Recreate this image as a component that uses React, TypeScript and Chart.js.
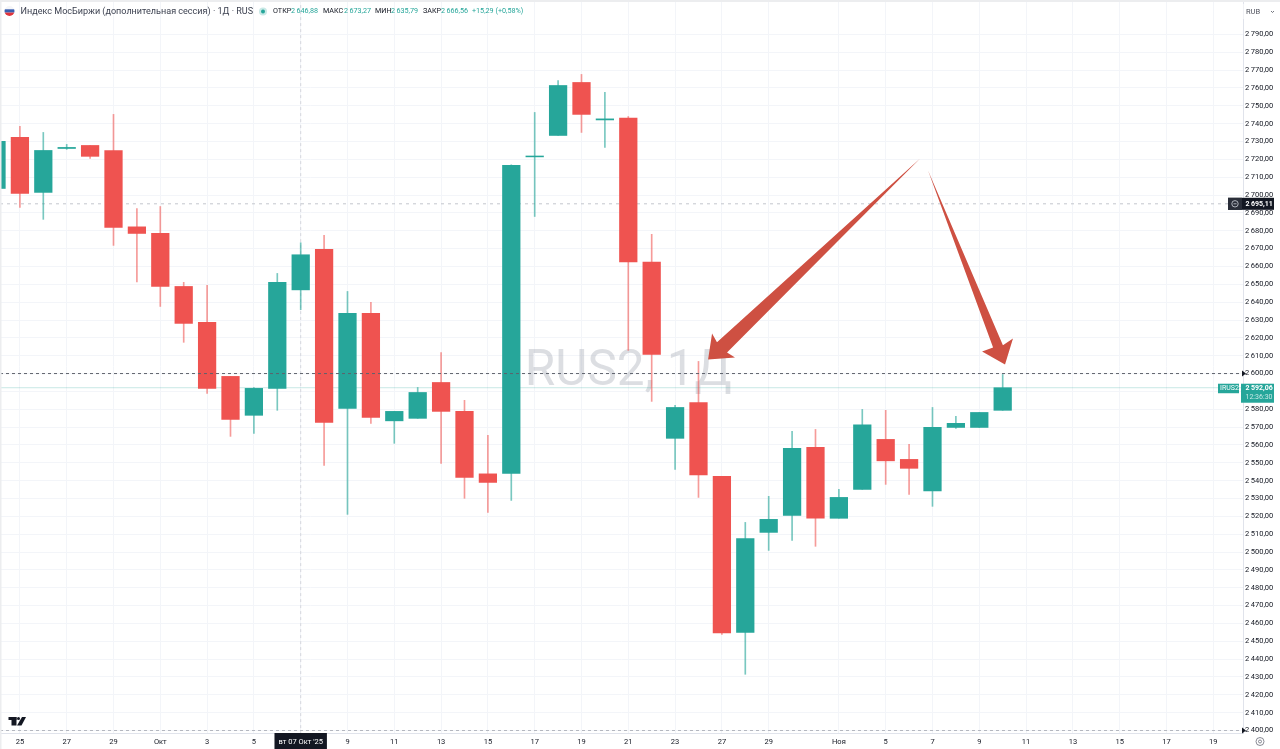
import React, { useEffect, useRef } from 'react';
import { Chart, registerables } from 'chart.js';

Chart.register(...registerables);

const openPrices = [2703.7,2732.3,2701.5,2726.1,2727.8,2725,2682.2,2678.5,2648.8,2628.7,2598.4,2576.6,2591.7,2646.88,2669.6,2580.5,2633.7,2573.5,2574.9,2595,2578.8,2543.8,2544.1,2721.4,2733.4,2763.1,2742.1,2743.2,2662.5,2563.7,2583.8,2542.4,2455,2511,2520.5,2558.6,2518.9,2535.1,2563.1,2551.9,2534.3,2569.8,2569.8,2579.4];
const closePrices = [2730.1,2700.9,2725,2726.7,2721.7,2681.9,2678.5,2648.8,2628.1,2591.7,2574.3,2591.7,2651.1,2666.56,2572.6,2633.7,2575.4,2578.8,2589.4,2578.8,2541.8,2539,2716.6,2721.9,2761.4,2745.2,2742.7,2662.5,2610.7,2581,2543.2,2454.7,2507.6,2518.3,2558.1,2518.9,2530.6,2571.2,2551.1,2546.9,2569.8,2572.1,2578.2,2592.06];
const highPrices = [2731,2738.5,2735.1,2728.4,2727.8,2745.2,2692.5,2693.6,2651.1,2649.4,2598.4,2592.2,2656.1,2673.27,2677.4,2646,2639.9,2578.8,2592.2,2611.8,2585,2565.4,2717,2746.3,2764.2,2767.6,2757.5,2744,2678,2582.2,2606.8,2542.4,2516.6,2531.2,2567.6,2568.7,2535.1,2579.9,2579.4,2560.3,2581,2576,2578.2,2599.5];
const lowPrices = [2703,2693.1,2686.4,2725.6,2720.5,2671.8,2651.3,2637.6,2617.5,2588.9,2564.8,2566.5,2579.4,2635.79,2548.5,2521.1,2572.1,2560.9,2574.9,2549.7,2530.1,2522.2,2528.9,2688,2733.4,2735.1,2726.7,2613,2584.4,2546.3,2530.6,2453.9,2431.5,2500.9,2506.5,2503.2,2518.9,2535.1,2537.9,2532.3,2525.6,2569.3,2569.8,2579.4];

const xTickIndices = [1,3,5,7,9,11,13,15,17,19,21,23,25,27,29,31,33,36,38,40,42,44,46,48,50,52];
const xTickLabels = ['25','27','29','Окт','3','5',"вт 07 Окт '25",'9','11','13','15','17','19','21','23','27','29','Ноя','5','7','9','11','13','15','17','19'];

const crosshairIndex = 13;
const crosshairPrice = 2695.11;
const lastPrice = 2592.06;
const alertLevels = [2600, 2400];
const arrowLeft = [[39.47,2720.5],[30.79,2617.5],[30.58,2622.5],[30.41,2607.9],[31.56,2609],[31.22,2611.8]];
const arrowRight = [[39.81,2713.8],[43.01,2615.8],[43.44,2619.7],[43.1,2605.1],[42.12,2612.4],[42.59,2614.6]];

const titleText = 'Индекс МосБиржи (дополнительная сессия) · 1Д · RUS';
const ohlcLabels = ['ОТКР','МАКС','МИН','ЗАКР'];
const ohlcValues = ['2\u2009646,88','2\u2009673,27','2\u2009635,79','2\u2009666,56'];
const changeText = '+15,29 (+0,58%)';
const watermarkText = 'RUS2, 1Д';

const UP = '#26A69A';
const DOWN = '#EF5350';
const FONT = 'Roboto, sans-serif';
const INK = '#131722';
const X_MIN = 0.1496;
const X_MAX = 53.27;

const fmtPrice = (v: number) => {
  const s = v.toFixed(2).replace('.', ',');
  return s.slice(0, 1) + '\u2009' + s.slice(1);
};

const hline = (y: number, color: string, dash: number[], order: number) => ({
  type: 'line' as const,
  data: [{ x: X_MIN, y }, { x: X_MAX, y }],
  borderColor: color,
  borderWidth: 1,
  borderDash: dash,
  pointRadius: 0,
  order,
});

const decor = {
  id: 'decor',
  beforeDatasetsDraw(chart: any) {
    const { ctx, scales } = chart;
    ctx.save();
    ctx.fillStyle = 'rgba(178,181,190,0.45)';
    ctx.font = `49.5px ${FONT}`;
    ctx.textAlign = 'center';
    ctx.textBaseline = 'alphabetic';
    ctx.fillText(watermarkText, scales.x.getPixelForValue(27), scales.y.getPixelForValue(2593.5));
    ctx.restore();
  },
  afterDraw(chart: any) {
    const { ctx, scales } = chart;
    const x = scales.x;
    const y = scales.y;
    ctx.save();

    // arrows
    ctx.fillStyle = '#CE5042';
    [arrowLeft, arrowRight].forEach((pts) => {
      ctx.beginPath();
      pts.forEach(([i, p], k) => {
        const px = x.getPixelForValue(i);
        const py = y.getPixelForValue(p);
        if (k === 0) ctx.moveTo(px, py);
        else ctx.lineTo(px, py);
      });
      ctx.closePath();
      ctx.fill();
    });

    // window edges
    ctx.fillStyle = '#ECEDEF';
    ctx.fillRect(0, 0, 1280, 2);
    ctx.fillRect(0, 0, 1.5, 749);

    // header
    ctx.textBaseline = 'middle';
    ctx.textAlign = 'left';
    ctx.save();
    ctx.beginPath();
    ctx.arc(9.5, 11, 5, 0, Math.PI * 2);
    ctx.clip();
    ctx.fillStyle = '#F4F5F8';
    ctx.fillRect(4, 6, 11, 3.3);
    ctx.fillStyle = '#3A5FB0';
    ctx.fillRect(4, 9.3, 11, 3.3);
    ctx.fillStyle = '#E0343C';
    ctx.fillRect(4, 12.6, 11, 4);
    ctx.restore();
    ctx.fillStyle = '#3C4150';
    ctx.font = `9.05px ${FONT}`;
    ctx.fillText(titleText, 20.5, 11.5);
    ctx.fillStyle = 'rgba(38,166,154,0.25)';
    ctx.beginPath();
    ctx.arc(263, 11.5, 4, 0, Math.PI * 2);
    ctx.fill();
    ctx.fillStyle = UP;
    ctx.beginPath();
    ctx.arc(263, 11.5, 2, 0, Math.PI * 2);
    ctx.fill();
    ctx.font = `7.2px ${FONT}`;
    const labelX = [273, 323, 375, 423];
    const valueX = [291, 344, 391, 441];
    ohlcLabels.forEach((t, i) => {
      ctx.fillStyle = INK;
      ctx.fillText(t, labelX[i], 11.5);
      ctx.fillStyle = UP;
      ctx.fillText(ohlcValues[i], valueX[i], 11.5);
    });
    ctx.fillText(changeText, 472, 11.5);

    // currency box
    ctx.fillStyle = '#fff';
    ctx.fillRect(1243.5, 4, 33, 15);
    ctx.fillStyle = '#50535E';
    ctx.font = `7.5px ${FONT}`;
    ctx.fillText('RUB', 1246, 12);
    ctx.strokeStyle = '#50535E';
    ctx.lineWidth = 0.8;
    ctx.beginPath();
    ctx.moveTo(1271, 11);
    ctx.lineTo(1272.5, 12.5);
    ctx.lineTo(1274, 11);
    ctx.stroke();

    // alert markers on price axis
    ctx.fillStyle = '#131722';
    alertLevels.forEach((p) => {
      const py = y.getPixelForValue(p);
      ctx.beginPath();
      ctx.moveTo(1242, py - 3);
      ctx.lineTo(1246, py);
      ctx.lineTo(1242, py + 3);
      ctx.closePath();
      ctx.fill();
    });

    // crosshair price tag
    const cy = y.getPixelForValue(crosshairPrice);
    ctx.fillStyle = '#131722';
    ctx.fillRect(1228, cy - 6, 46, 12);
    ctx.fillStyle = '#2A2E39';
    ctx.fillRect(1228, cy - 6, 14, 12);
    ctx.strokeStyle = '#D1D4DC';
    ctx.lineWidth = 0.8;
    ctx.beginPath();
    ctx.arc(1235, cy, 3.2, 0, Math.PI * 2);
    ctx.moveTo(1233.5, cy);
    ctx.lineTo(1236.5, cy);
    ctx.stroke();
    ctx.fillStyle = '#fff';
    ctx.font = `bold 7px ${FONT}`;
    ctx.fillText(fmtPrice(crosshairPrice), 1245.5, cy + 0.5);

    // last price tag
    const ly = y.getPixelForValue(lastPrice);
    ctx.fillStyle = UP;
    ctx.fillRect(1218, ly - 4, 21, 9.5);
    ctx.fillRect(1241, ly - 4, 33, 19);
    ctx.fillStyle = '#fff';
    ctx.font = `7px ${FONT}`;
    ctx.fillText('IRUS2', 1220, ly + 1);
    ctx.font = `bold 7px ${FONT}`;
    ctx.fillText(fmtPrice(lastPrice), 1245.5, ly + 1);
    ctx.fillStyle = 'rgba(255,255,255,0.75)';
    ctx.font = `7px ${FONT}`;
    ctx.fillText('12:36:30', 1245.5, ly + 9.5);

    // TradingView logo
    ctx.fillStyle = '#131722';
    ctx.fillRect(8.5, 717, 8, 3);
    ctx.fillRect(11.5, 717, 5, 8.5);
    ctx.beginPath();
    ctx.arc(18.5, 718.5, 1.5, 0, Math.PI * 2);
    ctx.fill();
    ctx.beginPath();
    ctx.moveTo(22, 717);
    ctx.lineTo(26, 717);
    ctx.lineTo(21.5, 725.5);
    ctx.lineTo(17, 725.5);
    ctx.closePath();
    ctx.fill();

    // bottom-right settings icon
    ctx.strokeStyle = '#6A6D78';
    ctx.lineWidth = 0.8;
    ctx.beginPath();
    ctx.arc(1260, 741.5, 4, 0, Math.PI * 2);
    ctx.stroke();
    ctx.beginPath();
    ctx.arc(1260, 741.5, 1.5, 0, Math.PI * 2);
    ctx.stroke();

    ctx.restore();
  },
};

export default function App() {
  const ref = useRef<HTMLCanvasElement | null>(null);

  useEffect(() => {
    document.body.style.margin = '0';
    document.body.style.background = '#fff';
    const idx = openPrices.map((_, i) => i);
    const colors = idx.map((i) => (closePrices[i] >= openPrices[i] ? UP : DOWN));
    const wickColors = idx.map((i) =>
      closePrices[i] >= openPrices[i] ? 'rgba(38,166,154,0.62)' : 'rgba(239,83,80,0.58)'
    );
    const chart = new Chart(ref.current as HTMLCanvasElement, {
      type: 'bar',
      plugins: [decor],
      data: {
        datasets: [
          hline(alertLevels[0], '#5E626C', [3, 3], 0),
          hline(alertLevels[1], '#B4B7BF', [3, 3], 0),
          {
            data: idx.map((i) => ({ x: i, y: [openPrices[i], closePrices[i]] })),
            backgroundColor: colors,
            barThickness: 17.6,
            grouped: false,
            order: 1,
          },
          {
            data: idx.map((i) => ({ x: i, y: [lowPrices[i], highPrices[i]] })),
            backgroundColor: wickColors,
            barThickness: 1,
            grouped: false,
            order: 2,
          },
          hline(crosshairPrice, '#C4C6CD', [3, 4], 3),
          hline(lastPrice, 'rgba(38,166,154,0.25)', [], 3),
          {
            type: 'line',
            data: [{ x: crosshairIndex, y: 2398 }, { x: crosshairIndex, y: 2810 }],
            borderColor: '#D5D7DD',
            borderWidth: 1,
            borderDash: [3, 3],
            pointRadius: 0,
            order: 3,
          },
        ] as any,
      },
      options: {
        responsive: false,
        animation: false,
        devicePixelRatio: 1,
        layout: { padding: 0 },
        events: [],
        plugins: { legend: { display: false }, tooltip: { enabled: false }, title: { display: false } },
        scales: {
          x: {
            type: 'linear',
            min: X_MIN,
            max: X_MAX,
            offset: false,
            grid: { color: '#F3F5F9', offset: false, drawTicks: false },
            border: { color: '#E0E3EB' },
            afterFit(s: any) {
              s.height = 16;
              s.paddingLeft = 0;
              s.paddingRight = 0;
            },
            afterBuildTicks(s: any) { s.ticks = xTickIndices.map((value) => ({ value })); },
            ticks: {
              autoSkip: false,
              maxRotation: 0,
              includeBounds: false,
              padding: 5,
              font: { family: 'Roboto, sans-serif', size: 7.5 },
              color: (c: any) => (c.tick && c.tick.value === crosshairIndex ? '#fff' : INK),
              showLabelBackdrop: true,
              backdropColor: (c: any) => (c.tick && c.tick.value === crosshairIndex ? '#131722' : 'rgba(0,0,0,0)'),
              backdropPadding: { x: 4, y: 5 },
              callback: (v: any) => {
                const k = xTickIndices.indexOf(v);
                return k >= 0 ? xTickLabels[k] : '';
              },
            },
          } as any,
          y: {
            type: 'linear',
            position: 'right',
            min: 2398.6,
            max: 2809.3,
            grid: { color: '#F3F5F9', drawTicks: false },
            border: { color: '#E0E3EB' },
            afterFit(s: any) {
              s.width = 37;
              s.paddingTop = 0;
              s.paddingBottom = 0;
            },
            afterBuildTicks(s: any) {
              s.ticks = s.ticks.filter((t: any) => t.value >= 2400 && t.value <= 2790);
            },
            ticks: {
              stepSize: 10,
              autoSkip: false,
              includeBounds: false,
              padding: 2,
              font: { family: 'Roboto, sans-serif', size: 7.5 },
              color: INK,
              callback: (v: any) => fmtPrice(Number(v)),
            },
          } as any,
        },
      },
    });
    return () => chart.destroy();
  }, []);

  return (
    <canvas
      ref={ref}
      width={1280}
      height={749}
      style={{ position: 'absolute', left: 0, top: 0, display: 'block' }}
    />
  );
}
